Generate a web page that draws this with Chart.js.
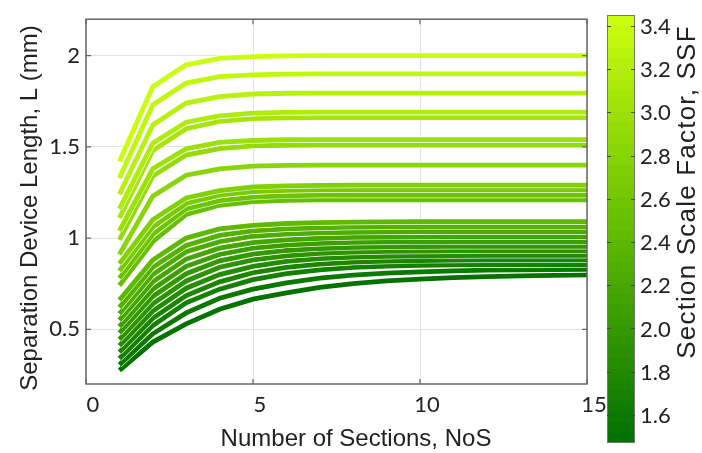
<!DOCTYPE html>
<html>
<head>
<meta charset="utf-8">
<script src="https://cdn.jsdelivr.net/npm/chart.js@4/dist/chart.umd.min.js"></script>
<style>
  html, body { margin: 0; padding: 0; background: #fff; }
  #wrap { width: 702px; height: 453px; }
</style>
</head>
<body>
<div id="wrap"><canvas id="c" width="702" height="453"></canvas></div>
<script>
// Number of sections (x axis)
const nos = [1, 2, 3, 4, 5, 6, 7, 8, 9, 10, 11, 12, 13, 14, 15];

// Separation device length L (mm) for each section scale factor
const len150 = [0.275, 0.43, 0.53, 0.61, 0.665, 0.70, 0.73, 0.75, 0.765, 0.775, 0.783, 0.789, 0.793, 0.796, 0.798];
const len158 = [0.305, 0.475, 0.59, 0.67, 0.72, 0.755, 0.78, 0.797, 0.808, 0.815, 0.82, 0.824, 0.826, 0.827, 0.828];
const len167 = [0.34, 0.52, 0.645, 0.72, 0.772, 0.805, 0.826, 0.839, 0.847, 0.851, 0.853, 0.854, 0.855, 0.855, 0.855];
const len175 = [0.375, 0.56, 0.685, 0.76, 0.81, 0.84, 0.857, 0.868, 0.874, 0.877, 0.879, 0.88, 0.88, 0.88, 0.88];
const len183 = [0.41, 0.60, 0.725, 0.80, 0.845, 0.872, 0.887, 0.896, 0.90, 0.903, 0.904, 0.905, 0.905, 0.905, 0.905];
const len192 = [0.445, 0.64, 0.765, 0.84, 0.88, 0.903, 0.916, 0.923, 0.927, 0.929, 0.93, 0.931, 0.931, 0.931, 0.931];
const len200 = [0.48, 0.68, 0.805, 0.875, 0.912, 0.932, 0.943, 0.949, 0.952, 0.953, 0.954, 0.954, 0.954, 0.954, 0.954];
const len208 = [0.515, 0.72, 0.845, 0.91, 0.945, 0.962, 0.971, 0.976, 0.979, 0.98, 0.981, 0.981, 0.981, 0.981, 0.981];
const len217 = [0.55, 0.76, 0.885, 0.945, 0.975, 0.99, 0.999, 1.004, 1.006, 1.007, 1.008, 1.008, 1.008, 1.008, 1.008];
const len225 = [0.585, 0.80, 0.925, 0.98, 1.01, 1.022, 1.028, 1.032, 1.034, 1.035, 1.035, 1.035, 1.035, 1.035, 1.035];
const len233 = [0.62, 0.84, 0.96, 1.015, 1.04, 1.05, 1.056, 1.06, 1.061, 1.062, 1.062, 1.062, 1.062, 1.062, 1.062];
const len242 = [0.66, 0.88, 1.00, 1.05, 1.07, 1.08, 1.085, 1.088, 1.089, 1.09, 1.09, 1.09, 1.09, 1.09, 1.09];
const len250 = [0.74, 0.98, 1.13, 1.18, 1.20, 1.207, 1.21, 1.21, 1.21, 1.21, 1.21, 1.21, 1.21, 1.21, 1.21];
const len258 = [0.78, 1.02, 1.16, 1.205, 1.225, 1.232, 1.235, 1.236, 1.236, 1.236, 1.236, 1.236, 1.236, 1.236, 1.236];
const len267 = [0.82, 1.06, 1.19, 1.235, 1.255, 1.261, 1.264, 1.265, 1.265, 1.265, 1.265, 1.265, 1.265, 1.265, 1.265];
const len275 = [0.86, 1.10, 1.22, 1.26, 1.28, 1.286, 1.289, 1.29, 1.29, 1.29, 1.29, 1.29, 1.29, 1.29, 1.29];
const len283 = [0.91, 1.23, 1.345, 1.38, 1.395, 1.399, 1.40, 1.40, 1.40, 1.40, 1.40, 1.40, 1.40, 1.40, 1.40];
const len292 = [0.99, 1.34, 1.455, 1.49, 1.505, 1.509, 1.51, 1.51, 1.51, 1.51, 1.51, 1.51, 1.51, 1.51, 1.51];
const len300 = [1.04, 1.38, 1.49, 1.525, 1.535, 1.539, 1.54, 1.54, 1.54, 1.54, 1.54, 1.54, 1.54, 1.54, 1.54];
const len308 = [1.11, 1.48, 1.60, 1.64, 1.655, 1.659, 1.66, 1.66, 1.66, 1.66, 1.66, 1.66, 1.66, 1.66, 1.66];
const len317 = [1.16, 1.52, 1.635, 1.67, 1.685, 1.689, 1.69, 1.69, 1.69, 1.69, 1.69, 1.69, 1.69, 1.69, 1.69];
const len325 = [1.24, 1.62, 1.74, 1.775, 1.79, 1.794, 1.795, 1.795, 1.795, 1.795, 1.795, 1.795, 1.795, 1.795, 1.795];
const len333 = [1.33, 1.73, 1.85, 1.885, 1.895, 1.899, 1.90, 1.90, 1.90, 1.90, 1.90, 1.90, 1.90, 1.90, 1.90];
const len342 = [1.42, 1.83, 1.95, 1.985, 1.995, 1.999, 2.00, 2.00, 2.00, 2.00, 2.00, 2.00, 2.00, 2.00, 2.00];

// Section scale factor of each curve, in the same order
const ssf = [1.50, 1.58, 1.67, 1.75, 1.83, 1.92, 2.00, 2.08, 2.17, 2.25, 2.33, 2.42,
             2.50, 2.58, 2.67, 2.75, 2.83, 2.92, 3.00, 3.08, 3.17, 3.25, 3.33, 3.42];
const curves = [len150, len158, len167, len175, len183, len192, len200, len208, len217, len225, len233, len242,
                len250, len258, len267, len275, len283, len292, len300, len308, len317, len325, len333, len342];

// Axis ticks and titles
const xTicks = [0, 5, 10, 15];
const yTicks = [0.5, 1, 1.5, 2];
const cbTicks = [1.6, 1.8, 2.0, 2.2, 2.4, 2.6, 2.8, 3.0, 3.2, 3.4];
const cbRange = [1.47, 3.45];
const xTitle = 'Number of Sections, NoS';
const yTitle = 'Separation Device Length, L (mm)';
const cbTitle = 'Section Scale Factor, SSF';

// Green colour map: dark green -> yellow green
function greenMap(t) {
  t = Math.max(0, Math.min(1, t));
  const a = [0, 112, 0], b = [98, 188, 0], c = [205, 255, 15];
  let p, q, u;
  if (t < 0.5) { p = a; q = b; u = t / 0.5; } else { p = b; q = c; u = (t - 0.5) / 0.5; }
  const r = Math.round(p[0] + (q[0] - p[0]) * u);
  const g = Math.round(p[1] + (q[1] - p[1]) * u);
  const bl = Math.round(p[2] + (q[2] - p[2]) * u);
  return `rgb(${r},${g},${bl})`;
}
const ssfColor = v => greenMap((v - cbRange[0]) / (cbRange[1] - cbRange[0]));

const datasets = [];
curves.forEach((vals, i) => {
  const pts = vals.map((v, k) => ({ x: nos[k], y: v }));
  // thin white halo under each curve
  datasets.push({
    data: pts, borderColor: 'rgba(255,255,255,0.8)', borderWidth: 6.2,
    pointRadius: 0, tension: 0, order: 2 * (curves.length - i) + 1
  });
  datasets.push({
    data: pts, borderColor: ssfColor(ssf[i]), borderWidth: 4.8,
    pointRadius: 0, tension: 0, order: 2 * (curves.length - i)
  });
});

const tickFont = { family: 'Lato, "Open Sans", sans-serif', size: 22 };
const titleFont = { family: '"Liberation Sans", Arial, sans-serif', size: 24 };
const textColor = '#222';

// Frame, inward ticks, axis titles and the colour bar
const decorations = {
  id: 'decorations',
  afterDraw(chart) {
    const { ctx, chartArea: a, scales: { x, y } } = chart;
    ctx.save();
    ctx.strokeStyle = '#666';
    ctx.lineWidth = 1.5;
    ctx.strokeRect(a.left, a.top, a.right - a.left, a.bottom - a.top);
    ctx.lineWidth = 1.2;
    ctx.beginPath();
    xTicks.forEach(v => {
      const px = x.getPixelForValue(v);
      ctx.moveTo(px, a.bottom); ctx.lineTo(px, a.bottom - 5);
      ctx.moveTo(px, a.top); ctx.lineTo(px, a.top + 5);
    });
    yTicks.forEach(v => {
      const py = y.getPixelForValue(v);
      ctx.moveTo(a.left, py); ctx.lineTo(a.left + 5, py);
      ctx.moveTo(a.right, py); ctx.lineTo(a.right - 5, py);
    });
    ctx.stroke();

    // axis titles
    ctx.fillStyle = textColor;
    ctx.font = `${titleFont.size}px ${titleFont.family}`;
    ctx.textAlign = 'center';
    ctx.textBaseline = 'middle';
    ctx.fillText(xTitle, 356, 439);
    ctx.save();
    ctx.translate(30, 208);
    ctx.rotate(-Math.PI / 2);
    ctx.fillText(yTitle, 0, 0);
    ctx.restore();

    // colour bar
    const cbL = 607, cbR = 635, cbT = 15, cbB = 443;
    const bands = 40;
    const toPx = v => cbB - (v - cbRange[0]) / (cbRange[1] - cbRange[0]) * (cbB - cbT);
    for (let k = 0; k < bands; k++) {
      const v0 = cbRange[0] + (cbRange[1] - cbRange[0]) * k / bands;
      const v1 = cbRange[0] + (cbRange[1] - cbRange[0]) * (k + 1) / bands;
      ctx.fillStyle = greenMap((k + 0.5) / bands);
      const yTop = toPx(v1), yBot = toPx(v0);
      ctx.fillRect(cbL, Math.floor(yTop), cbR - cbL, Math.ceil(yBot) - Math.floor(yTop));
    }
    ctx.strokeStyle = '#777';
    ctx.lineWidth = 1;
    ctx.strokeRect(cbL + 0.5, cbT + 0.5, cbR - cbL - 1, cbB - cbT - 1);
    ctx.strokeStyle = '#444';
    ctx.beginPath();
    cbTicks.forEach(v => {
      const py = Math.round(toPx(v)) + 0.5;
      ctx.moveTo(cbL, py); ctx.lineTo(cbL + 4, py);
      ctx.moveTo(cbR, py); ctx.lineTo(cbR - 4, py);
    });
    ctx.stroke();
    ctx.fillStyle = textColor;
    ctx.font = `${tickFont.size}px ${tickFont.family}`;
    ctx.textAlign = 'left';
    ctx.textBaseline = 'middle';
    cbTicks.forEach(v => ctx.fillText(v.toFixed(1), cbR + 5, toPx(v) + 1));

    ctx.translate(688, 192);
    ctx.rotate(-Math.PI / 2);
    ctx.font = `26px ${titleFont.family}`;
    ctx.letterSpacing = '1.2px';
    ctx.textAlign = 'center';
    ctx.fillText(cbTitle, 0, 0);
    ctx.restore();
  }
};

new Chart(document.getElementById('c'), {
  type: 'line',
  data: { datasets },
  plugins: [decorations],
  options: {
    responsive: false,
    animation: false,
    devicePixelRatio: 1,
    layout: { padding: { top: 15, right: 115, left: 0, bottom: 0 } },
    plugins: { legend: { display: false }, tooltip: { enabled: false } },
    scales: {
      x: {
        type: 'linear', min: 0, max: 15,
        afterBuildTicks: s => { s.ticks = xTicks.map(v => ({ value: v })); },
        afterFit: s => { s.height = 69; },
        grid: { color: '#e2e2e2', lineWidth: 1, drawTicks: false },
        border: { display: false },
        ticks: { font: tickFont, color: textColor, padding: 8, labelOffset: 7, maxRotation: 0, callback: v => String(v) }
      },
      y: {
        type: 'linear', min: 0.2, max: 2.2,
        afterBuildTicks: s => { s.ticks = yTicks.map(v => ({ value: v })); },
        afterFit: s => { s.width = 86; },
        grid: { color: '#e2e2e2', lineWidth: 1, drawTicks: false },
        border: { display: false },
        ticks: { font: tickFont, color: textColor, padding: 6, callback: v => String(v) }
      }
    }
  }
});
</script>
</body>
</html>
